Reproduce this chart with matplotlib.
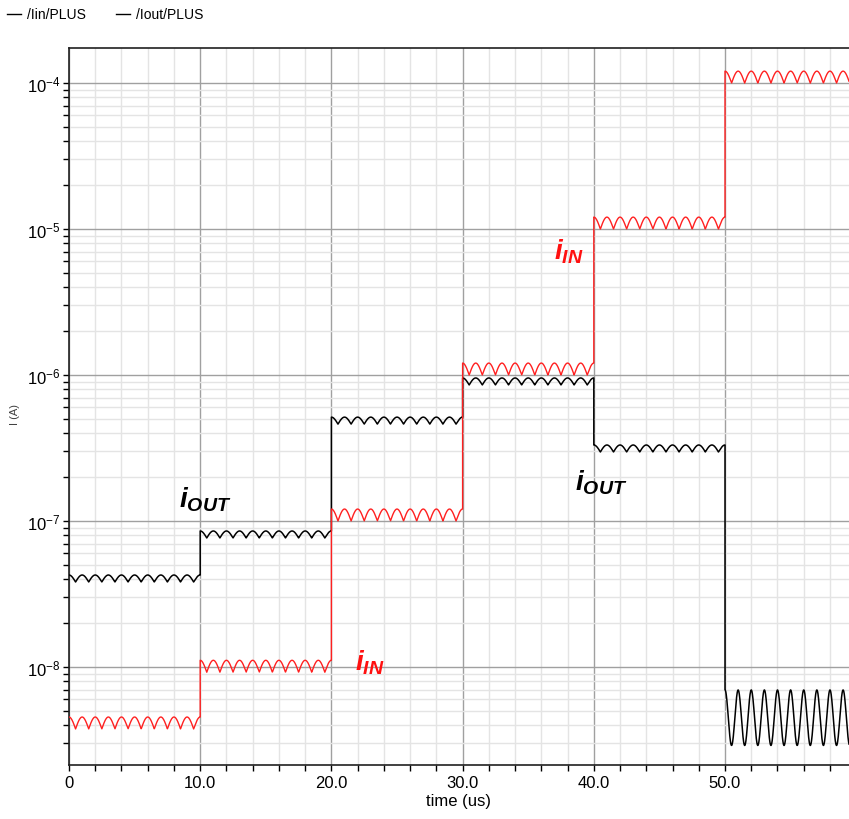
import numpy as np
from matplotlib import pyplot as plt
from matplotlib.ticker import FixedLocator, LogLocator, NullFormatter
from matplotlib.lines import Line2D

# step edges (us) and levels (bottom of ripple, A)
edges = [0.0, 10.0, 20.0, 30.0, 40.0, 50.0, 59.45]
iin_base = [3.76e-9, 9.2e-9, 1.0e-7, 1.0e-6, 1.0e-5, 1.0e-4]
iout_base = [3.82e-8, 7.65e-8, 4.61e-7, 8.55e-7, 2.97e-7, 2.9e-9]
# ripple peak-to-peak in decades, ripple period in us
iin_ripple = [0.082, 0.082, 0.082, 0.082, 0.082, 0.082]
iout_ripple = [0.048, 0.048, 0.048, 0.048, 0.048, 0.38]
ripple_period = 1.0

xticks = [0, 10, 20, 30, 40, 50]
xticklabels = ["0", "10.0", "20.0", "30.0", "40.0", "50.0"]
labels = [
    (37.0, 7.1e-6, r"$\mathbf{i_{IN}}$", "#ff1010"),
    (21.8, 1.08e-8, r"$\mathbf{i_{IN}}$", "#ff1010"),
    (8.4, 1.41e-7, r"$\mathbf{i_{OUT}}$", "black"),
    (38.6, 1.85e-7, r"$\mathbf{i_{OUT}}$", "black"),
]


def waveform(base, ripple, last_full_sine=False):
    ts, ys = [], []
    for k in range(len(base)):
        t = np.linspace(edges[k], edges[k + 1], 600)
        ph = np.pi * (t - edges[k]) / ripple_period
        if last_full_sine and k == len(base) - 1:
            shape = 0.5 * (1 + np.cos(2 * ph))
        else:
            shape = np.abs(np.cos(ph))
        ts.append(t)
        ys.append(base[k] * 10 ** (ripple[k] * shape))
    return np.concatenate(ts), np.concatenate(ys)


plt.rcParams["font.family"] = ["Liberation Sans", "DejaVu Sans"]
plt.rcParams["mathtext.fontset"] = "custom"
plt.rcParams["mathtext.bf"] = "Liberation Sans:italic:bold"
plt.rcParams["mathtext.rm"] = "Liberation Sans"
plt.rcParams["mathtext.it"] = "Liberation Sans:italic"
plt.rcParams["axes.unicode_minus"] = False

fig = plt.figure(figsize=(8.49, 8.2), dpi=100)
ax = fig.add_axes([69 / 849, 54 / 820, 780 / 849, 717 / 820])

t_in, y_in = waveform(iin_base, iin_ripple)
t_out, y_out = waveform(iout_base, iout_ripple, last_full_sine=True)
ax.plot(t_out, y_out, color="black", lw=1.1, zorder=3)
ax.plot(t_in, y_in, color="#ff2020", lw=1.0, zorder=4)

ax.set_yscale("log")
ax.set_xlim(0, 59.45)
ax.set_ylim(2.13e-9, 1.74e-4)

ax.xaxis.set_major_locator(FixedLocator(xticks))
ax.set_xticklabels(xticklabels)
ax.xaxis.set_minor_locator(FixedLocator(np.arange(0, 60, 2)))
ax.yaxis.set_major_locator(LogLocator(base=10, numticks=20))
ax.yaxis.set_minor_locator(LogLocator(base=10, subs=np.arange(2, 10), numticks=100))
ax.yaxis.set_minor_formatter(NullFormatter())

ax.grid(which="major", color="#a0a0a0", lw=1.0, zorder=1)
ax.grid(which="minor", color="#e4e4e4", lw=1.0, zorder=0)
ax.set_axisbelow(True)
ax.tick_params(which="both", direction="out", length=4, width=1, colors="black", labelsize=12)
ax.tick_params(axis="y", pad=2)

for side in ["left", "bottom", "top"]:
    ax.spines[side].set_color("#202020")
    ax.spines[side].set_linewidth(1.2)
ax.spines["right"].set_visible(False)

ax.set_xlabel("time (us)", fontsize=12, labelpad=2)
fig.text(0.018, 0.494, "I (A)", rotation=90, fontsize=8, color="#404040", va="center", ha="center")

for x, y, s, c in labels:
    ax.text(x, y, s, color=c, fontsize=20, va="center", ha="left", zorder=5)

handles = [Line2D([], [], color="black", lw=1.0), Line2D([], [], color="black", lw=1.0)]
fig.legend(handles, ["/Iin/PLUS", "/Iout/PLUS"], loc="upper left", bbox_to_anchor=(-0.006, 1.005),
           ncol=2, frameon=False, fontsize=10, handlelength=1.0, handletextpad=0.4, columnspacing=2.2)

fig.savefig("out.png", dpi=100)
